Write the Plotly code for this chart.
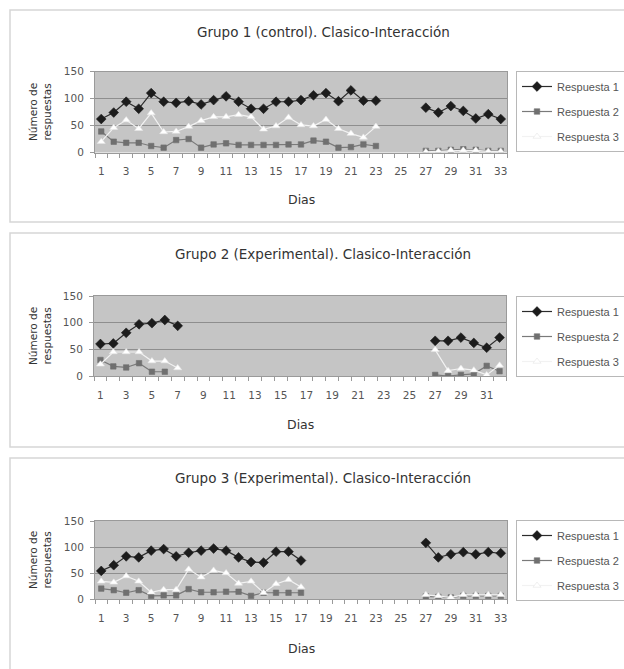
import plotly.graph_objects as go

# ---------------- data ----------------
days_33 = [1, 2, 3, 4, 5, 6, 7, 8, 9, 10, 11, 12, 13, 14, 15, 16, 17, 18, 19, 20,
           21, 22, 23, 24, 25, 26, 27, 28, 29, 30, 31, 32, 33]
days_32 = [1, 2, 3, 4, 5, 6, 7, 8, 9, 10, 11, 12, 13, 14, 15, 16, 17, 18, 19, 20,
           21, 22, 23, 24, 25, 26, 27, 28, 29, 30, 31, 32]
ticks_33 = [1, 3, 5, 7, 9, 11, 13, 15, 17, 19, 21, 23, 25, 27, 29, 31, 33]
ticks_32 = [1, 3, 5, 7, 9, 11, 13, 15, 17, 19, 21, 23, 25, 27, 29, 31]

series_names = ["Respuesta 1", "Respuesta 2", "Respuesta 3"]
titles = ["Grupo 1 (control). Clasico-Interacción",
          "Grupo 2 (Experimental). Clasico-Interacción",
          "Grupo 3 (Experimental). Clasico-Interacción"]

g1_r1 = [62, 74, 94, 81, 110, 94, 92, 95, 89, 97, 104, 94, 81, 81, 94, 94, 97, 106, 110, 95,
         115, 96, 96, None, None, None, 83, 74, 86, 77, 63, 71, 62]
g1_r2 = [39, 20, 18, 18, 12, 9, 23, 25, 9, 15, 17, 14, 14, 14, 14, 15, 15, 22, 20, 9,
         10, 15, 12, None, None, None, 3, 3, 5, 6, 5, 3, 3]
g1_r3 = [20, 46, 60, 44, 73, 38, 39, 48, 59, 66, 66, 70, 66, 43, 49, 65, 51, 49, 61, 44,
         35, 28, 48, None, None, None, 1, 2, 4, 4, 4, 2, 2]

g2_r1 = [60, 61, 81, 97, 99, 105, 94, None, None, None, None, None, None, None, None, None,
         None, None, None, None, None, None, None, None, None, None, 66, 66, 72, 62, 53, 72]
g2_r2 = [30, 18, 16, 24, 8, 8, None, None, None, None, None, None, None, None, None, None,
         None, None, None, None, None, None, None, None, None, None, 2, 0, 2, 4, 19, 9]
g2_r3 = [22, 45, 45, 45, 28, 28, 15, None, None, None, None, None, None, None, None, None,
         None, None, None, None, None, None, None, None, None, None, 49, 10, 14, 11, 2, 20]

g3_r1 = [54, 65, 82, 80, 93, 96, 82, 89, 93, 97, 93, 80, 71, 70, 91, 91, 74, None, None, None,
         None, None, None, None, None, None, 108, 80, 86, 90, 86, 90, 88]
g3_r2 = [20, 17, 12, 17, 6, 7, 7, 19, 13, 13, 14, 14, 6, 12, 12, 12, 12, None, None, None,
         None, None, None, None, None, None, 5, 4, 3, 6, 6, 6, 6]
g3_r3 = [34, 32, 44, 34, 13, 18, 18, 57, 42, 55, 50, 30, 34, 12, 29, 37, 23, None, None, None,
         None, None, None, None, None, None, 8, 6, 3, 8, 8, 8, 8]

groups = [
    (days_33, ticks_33, [g1_r1, g1_r2, g1_r3]),
    (days_32, ticks_32, [g2_r1, g2_r2, g2_r3]),
    (days_33, ticks_33, [g3_r1, g3_r2, g3_r3]),
]

# ---------------- layout geometry (pixels) ----------------
W, H = 624, 669
FONT = "DejaVu Sans, Verdana, sans-serif"
LEG_FONT = "Liberation Sans, Arial, sans-serif"


def px(x):
    return x / W


def py(y):
    return 1 - y / H


panels = [
    dict(top=71.5, bottom=152.5, left=95, right=507, box=(10, 10, 645, 222),
         title_y=32, xlab_y=199, leg_top=71),
    dict(top=296, bottom=376, left=94, right=506, box=(10, 233, 645, 447),
         title_y=254, xlab_y=424, leg_top=296),
    dict(top=521, bottom=599, left=95, right=507, box=(10, 458, 645, 690),
         title_y=478, xlab_y=648, leg_top=520),
]

styles = [
    dict(symbol="diamond", size=7.5, color="#1c1c1c", mline="#1c1c1c", line="#2c2c2c"),
    dict(symbol="square", size=5.5, color="#707070", mline="#707070", line="#7a7a7a"),
    dict(symbol="triangle-up", size=7, color="#ffffff", mline="#e6e6e6", line="#f2f2f2"),
]

fig = go.Figure()
layout = dict(
    width=W, height=H,
    margin=dict(l=0, r=0, t=0, b=0, autoexpand=False),
    paper_bgcolor="white",
    plot_bgcolor="#c5c5c5",
    font=dict(family=FONT, color="#444444", size=11),
    showlegend=True,
    annotations=[],
    shapes=[],
)

for i, (panel, (days, tickv, series)) in enumerate(zip(panels, groups)):
    n = i + 1
    xa = "x" if n == 1 else f"x{n}"
    ya = "y" if n == 1 else f"y{n}"
    leg = "legend" if n == 1 else f"legend{n}"
    for s, (name, vals, st) in enumerate(zip(series_names, series, styles)):
        fig.add_trace(go.Scatter(
            x=days, y=vals, name=name, mode="lines+markers",
            xaxis=xa, yaxis=ya, legend=leg, legendgroup=f"g{n}s{s}",
            line=dict(color=st["line"], width=1.2),
            marker=dict(symbol=st["symbol"], size=st["size"], color=st["color"],
                        line=dict(color=st["mline"], width=0.6)),
            connectgaps=False, hoverinfo="x+y+name",
        ))

    ncat = len(days)
    layout["xaxis" if n == 1 else f"xaxis{n}"] = dict(
        domain=[px(panel["left"]), px(panel["right"])],
        anchor=ya,
        range=[0.5, ncat + 0.5],
        tickmode="array", tickvals=tickv, ticktext=[str(t) for t in tickv],
        ticks="outside", ticklen=9, tickcolor="rgba(0,0,0,0)",
        tickfont=dict(size=10.5, color="#555555"),
        minor=dict(tickmode="linear", tick0=0.5, dtick=1, ticks="outside",
                   ticklen=4, tickcolor="#9a9a9a", showgrid=False),
        showgrid=False, zeroline=False,
        showline=True, linecolor="#9a9a9a", linewidth=1, mirror=True,
        fixedrange=True,
    )
    layout["yaxis" if n == 1 else f"yaxis{n}"] = dict(
        domain=[py(panel["bottom"]), py(panel["top"])],
        anchor=xa,
        range=[0, 150],
        tickmode="array", tickvals=[0, 50, 100, 150],
        ticks="outside", ticklen=4, tickcolor="#9a9a9a",
        ticklabelstandoff=4,
        tickfont=dict(size=10.5, color="#555555"),
        showgrid=True, gridcolor="#8e8e8e", gridwidth=1,
        zeroline=False,
        showline=True, linecolor="#9a9a9a", linewidth=1, mirror=True,
        fixedrange=True,
    )
    layout[leg] = dict(
        x=px(516), y=py(panel["leg_top"]), xanchor="left", yanchor="top",
        xref="paper", yref="paper",
        bgcolor="white", bordercolor="#b8b8b8", borderwidth=1,
        font=dict(family=LEG_FONT, size=11, color="#555555"),
        tracegroupgap=6, itemwidth=30,
    )
    x0, y0, x1, y1 = panel["box"]
    layout["shapes"].append(dict(
        type="rect", xref="paper", yref="paper",
        x0=px(x0), x1=px(x1), y0=py(y0), y1=py(y1),
        line=dict(color="#d6d6d6", width=1.5), fillcolor="rgba(0,0,0,0)", layer="below",
    ))
    layout["annotations"].append(dict(
        text=titles[i], xref="paper", yref="paper", x=px(323), y=py(panel["title_y"]),
        xanchor="center", yanchor="middle", showarrow=False,
        font=dict(family=FONT, size=13.5, color="#333333"),
    ))
    layout["annotations"].append(dict(
        text="Dias", xref="paper", yref="paper",
        x=px((panel["left"] + panel["right"]) / 2), y=py(panel["xlab_y"]),
        xanchor="center", yanchor="middle", showarrow=False,
        font=dict(family=FONT, size=12.5, color="#333333"),
    ))
    layout["annotations"].append(dict(
        text="Número de<br>respuestas", xref="paper", yref="paper",
        x=px(40), y=py((panel["top"] + panel["bottom"]) / 2),
        xanchor="center", yanchor="middle", showarrow=False, textangle=-90,
        font=dict(family=FONT, size=10.5, color="#333333"),
    ))

fig.update_layout(**layout)
fig.write_html(
    "out.html",
    config={"displayModeBar": False},
    post_script="document.body.style.margin='0px';document.body.style.overflow='hidden';",
)
